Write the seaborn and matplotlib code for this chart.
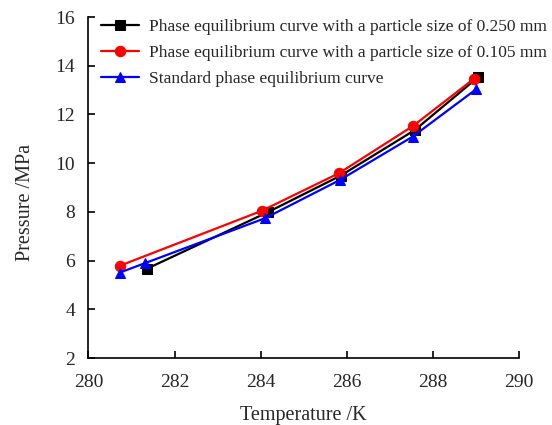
import matplotlib
matplotlib.use("Agg")
import matplotlib.pyplot as plt
import seaborn as sns
import pandas as pd

sns.set_theme(style="white")
plt.rcParams['font.family'] = ['Liberation Serif', 'DejaVu Serif']

t_250 = [281.35, 284.17, 285.86, 287.58, 289.05]
p_250 = [5.66, 7.99, 9.49, 11.36, 13.53]
t_105 = [280.73, 284.02, 285.82, 287.54, 288.95]
p_105 = [5.79, 8.04, 9.59, 11.53, 13.46]
t_std = [280.73, 281.32, 284.10, 285.84, 287.53, 289.0]
p_std = [5.51, 5.90, 7.74, 9.31, 11.09, 13.03]

labels = ["Phase equilibrium curve with a particle size of 0.250 mm",
          "Phase equilibrium curve with a particle size of 0.105 mm",
          "Standard phase equilibrium curve"]
colors = ["#000000", "#ff0000", "#0000ff"]
markers = ["s", "o", "^"]

df = pd.concat([
    pd.DataFrame({"T": t_250, "P": p_250, "s": labels[0]}),
    pd.DataFrame({"T": t_105, "P": p_105, "s": labels[1]}),
    pd.DataFrame({"T": t_std, "P": p_std, "s": labels[2]}),
])

fig = plt.figure(figsize=(5.52, 4.25), dpi=100)
ax = fig.add_axes([0.1603, 0.1576, 0.7800, 0.8024])
for lab, c, m in zip(labels, colors, markers):
    sub = df[df["s"] == lab]
    sns.lineplot(data=sub, x="T", y="P", ax=ax, color=c, marker=m, markersize=7.5,
                 markeredgecolor=c, linewidth=1.6, label=lab, sort=False)

ax.set_xlim(280, 290)
ax.set_ylim(2, 16)
ax.set_xticks(range(280, 291, 2))
ax.set_yticks(range(2, 17, 2))
ax.set_xlabel("Temperature /K", fontsize=14.5, labelpad=11)
ax.set_ylabel("Pressure /MPa", fontsize=14.5)
ax.yaxis.set_label_coords(-0.124, 0.455)
ax.tick_params(axis="both", direction="in", length=5, width=1.2, labelsize=14,
               color="black", bottom=True, left=True)
ax.tick_params(axis="x", pad=11.5)
ax.tick_params(axis="y", pad=9.5)
for s in ["top", "right"]:
    ax.spines[s].set_visible(False)
for s in ["left", "bottom"]:
    ax.spines[s].set_color("black")
    ax.spines[s].set_linewidth(1.2)
leg = ax.legend(loc="upper left", bbox_to_anchor=(0.0043, 1.026), frameon=False, fontsize=12.5,
                handlelength=2.2, labelspacing=0.565, handletextpad=0.6, borderaxespad=0.2)
fig.savefig("out.png", dpi=100)
